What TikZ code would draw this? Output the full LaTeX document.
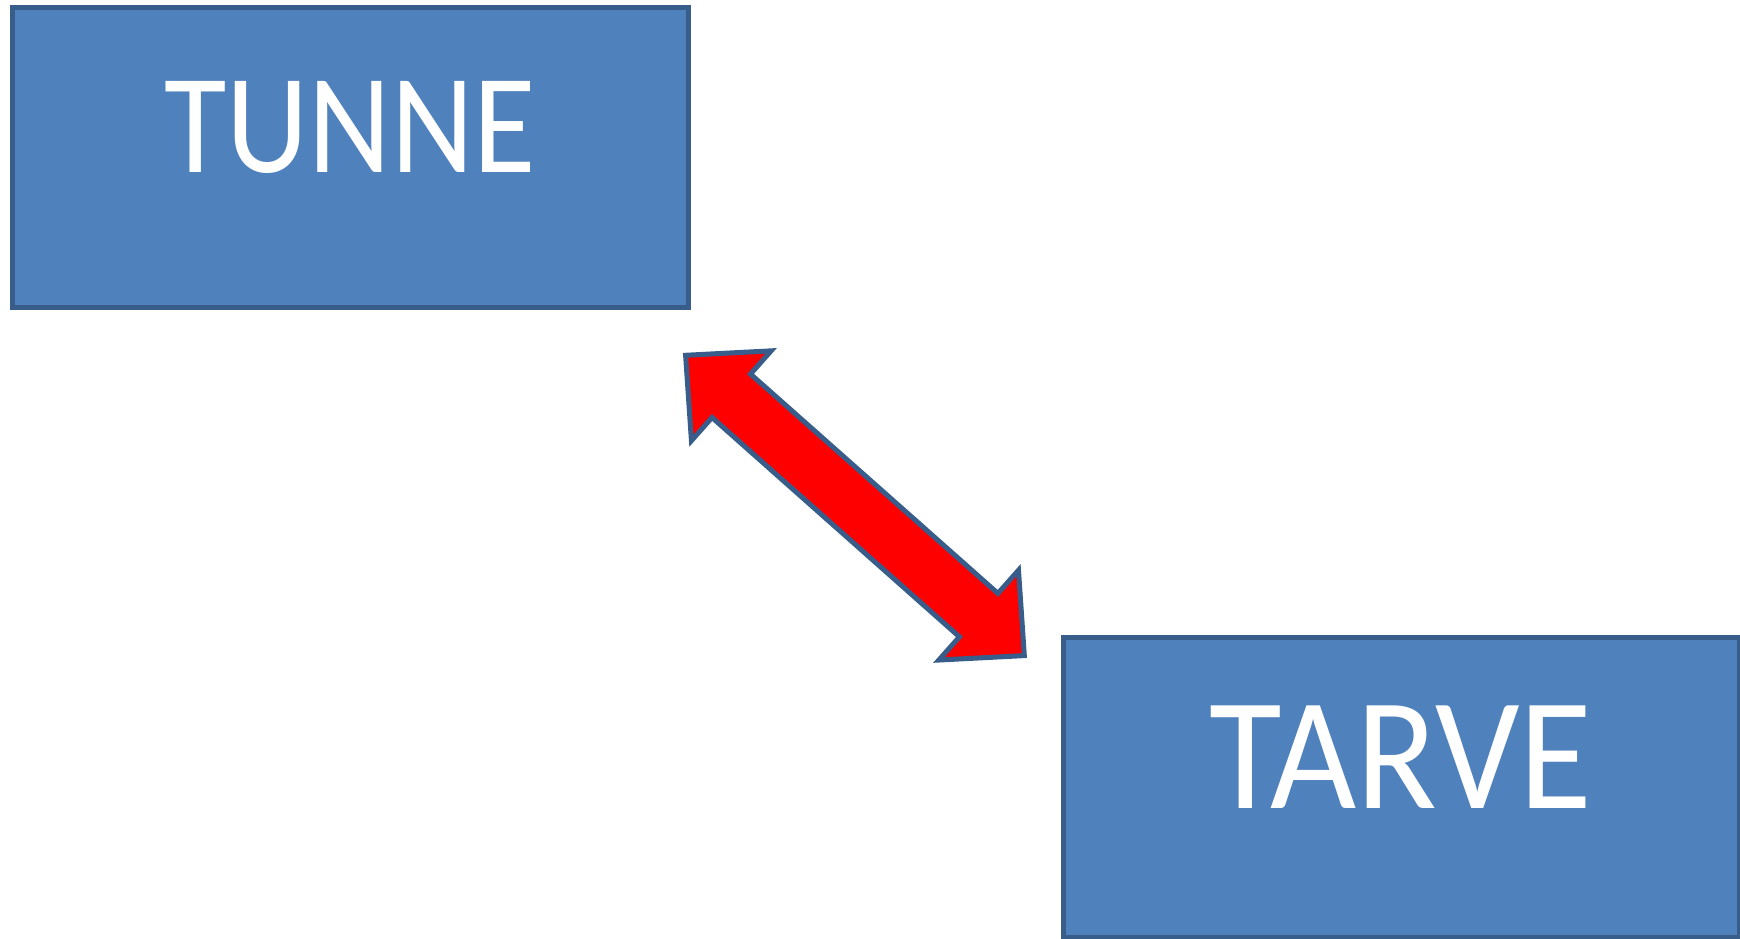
\documentclass[tikz,border=0pt]{standalone}
\usepackage{fontspec}
\setmainfont{Carlito}
\definecolor{boxfill}{HTML}{4F81BD}
\definecolor{boxline}{HTML}{385D8A}
\definecolor{arrowred}{HTML}{FF0000}
\begin{document}
\begin{tikzpicture}[x=1pt,y=1pt,
  box/.style={draw=boxline, fill=boxfill, line width=5pt, rectangle,
    minimum width=676pt, minimum height=300pt, inner sep=0pt},
  lbl/.style={text=white, inner sep=0pt, anchor=base},
  arrowshape/.style={draw=boxline, fill=arrowred, line width=5pt, line join=miter}]
\useasboundingbox (0,0) rectangle (1740,939);
\node[box] (tunne) at (350.5,781.5) {};
\node[box] (tarve) at (1401.5,151.5) {};
\node[lbl, xscale=0.9, font=\fontsize{142}{142}\selectfont] (tunnetxt) at (350.2,766.5) {TUNNE};
\node[lbl, xscale=0.93, font=\fontsize{160}{160}\selectfont] (tarvetxt) at (1400.6,130.5) {TARVE};
\begin{scope}[shift={(685.6,583.7)}, rotate=-41.56]
\draw[arrowshape] (0,0) -- (61,60) -- (61,29) -- (391.7,29) -- (391.7,60)
  -- (452.7,0) -- (391.7,-60) -- (391.7,-29) -- (61,-29) -- (61,-60) -- cycle;
\end{scope}
\end{tikzpicture}
\end{document}
